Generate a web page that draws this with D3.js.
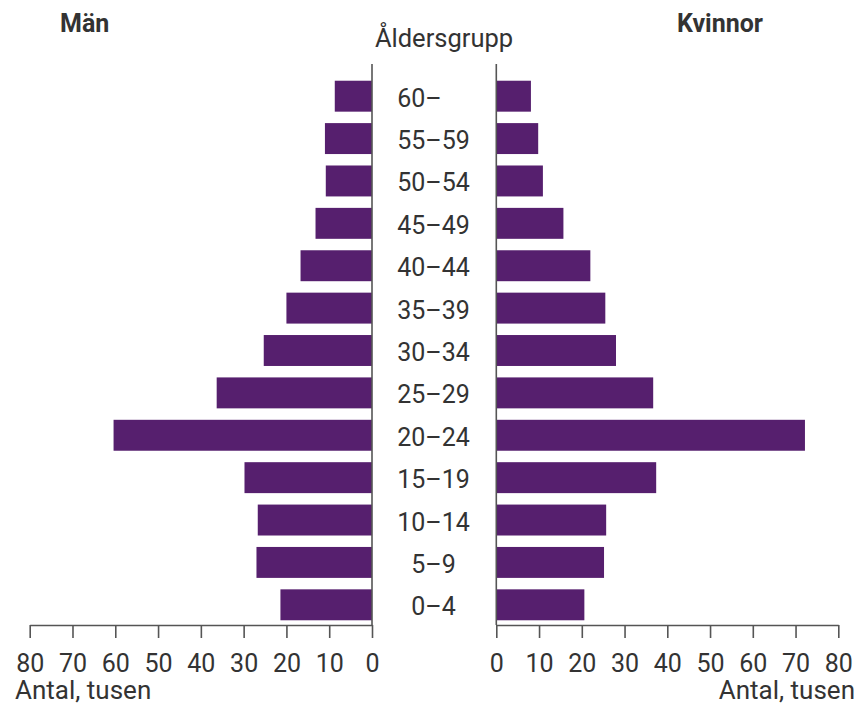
<!DOCTYPE html>
<html>
<head>
<meta charset="utf-8">
<script src="https://cdn.jsdelivr.net/npm/d3@7"></script>
<style>
  body { margin: 0; background: #fff; }
  svg text { font-family: Roboto, 'Noto Sans', sans-serif; fill: #333; }
</style>
</head>
<body>
<div id="graf"></div>
<script>
const ages = ['0–4', '5–9', '10–14', '15–19', '20–24', '25–29', '30–34', '35–39', '40–44', '45–49', '50–54', '55–59', '60–']
const men = [21.4, 27.0, 26.7, 29.8, 60.4, 36.3, 25.3, 20.0, 16.7, 13.2, 10.8, 11.0, 8.7]
const women = [20.6, 25.2, 25.7, 37.4, 72.2, 36.7, 28.0, 25.5, 22.0, 15.7, 10.9, 9.8, 8.1]
const ticks = [0, 10, 20, 30, 40, 50, 60, 70, 80]

const ancho = 861
const alto = 709
const purple = '#561f6e'
const grey = '#555'

const svg = d3.select('#graf')
  .append('svg')
  .attr('width', ancho)
  .attr('height', alto)

const axisY = 625

const y = d3.scaleBand()
  .domain(ages.slice().reverse())
  .range([75, 626])
  .paddingInner(0.27)
  .paddingOuter(0.135)

const xLeft = d3.scaleLinear().domain([0, 80]).range([372, 29.7])
const xRight = d3.scaleLinear().domain([0, 80]).range([496.3, 838.3])

const rows = ages.map((a, i) => ({ age: a, men: men[i], women: women[i] }))

// staplar
svg.append('g').selectAll('rect')
  .data(rows)
  .enter()
  .append('rect')
    .attr('x', d => xLeft(d.men))
    .attr('y', d => y(d.age))
    .attr('width', d => xLeft(0) - xLeft(d.men))
    .attr('height', y.bandwidth())
    .attr('fill', purple)

svg.append('g').selectAll('rect')
  .data(rows)
  .enter()
  .append('rect')
    .attr('x', xRight(0))
    .attr('y', d => y(d.age))
    .attr('width', d => xRight(d.women) - xRight(0))
    .attr('height', y.bandwidth())
    .attr('fill', purple)

// nollinjer
;[xLeft(0), xRight(0)].forEach(xx => {
  svg.append('line')
    .attr('x1', xx).attr('x2', xx)
    .attr('y1', 64).attr('y2', axisY)
    .attr('stroke', grey)
    .attr('stroke-width', 1.6)
})

// axlar
function drawAxis(scale) {
  const g = svg.append('g')
    .attr('transform', `translate(0, ${axisY})`)
    .call(d3.axisBottom(scale)
      .tickValues(ticks)
      .tickSize(13)
      .tickSizeOuter(0)
      .tickPadding(16))
  g.select('.domain').attr('stroke', grey).attr('stroke-width', 1.6)
  g.selectAll('.tick line').attr('stroke', grey).attr('stroke-width', 1.6)
  g.selectAll('.tick text')
    .attr('font-size', 25)
    .attr('font-family', 'Roboto, sans-serif')
    .attr('fill', '#333')
}
drawAxis(xLeft)
drawAxis(xRight)

// åldersetiketter
const midX = 433.5
const ref = svg.append('text').attr('font-size', 25).text('55–59')
const refW = ref.node().getComputedTextLength()
ref.remove()

svg.append('g').selectAll('text')
  .data(rows)
  .enter()
  .append('text')
    .attr('x', d => d.age.endsWith('–') ? midX - refW / 2 : midX)
    .attr('y', d => y(d.age) + y.bandwidth() / 2)
    .attr('dy', '0.42em')
    .attr('text-anchor', d => d.age.endsWith('–') ? 'start' : 'middle')
    .attr('font-size', 25)
    .text(d => d.age)

// rubriker
svg.append('text')
  .attr('x', 60).attr('y', 32)
  .attr('font-size', 25).attr('font-weight', 700)
  .text('Män')

svg.append('text')
  .attr('x', 677).attr('y', 32)
  .attr('font-size', 25).attr('font-weight', 700)
  .text('Kvinnor')

svg.append('text')
  .attr('x', 444).attr('y', 47)
  .attr('text-anchor', 'middle')
  .attr('font-size', 25.5)
  .text('Åldersgrupp')

svg.append('text')
  .attr('x', 15).attr('y', 699)
  .attr('font-size', 26)
  .text('Antal, tusen')

svg.append('text')
  .attr('x', 855).attr('y', 699)
  .attr('text-anchor', 'end')
  .attr('font-size', 26)
  .text('Antal, tusen')
</script>
</body>
</html>
